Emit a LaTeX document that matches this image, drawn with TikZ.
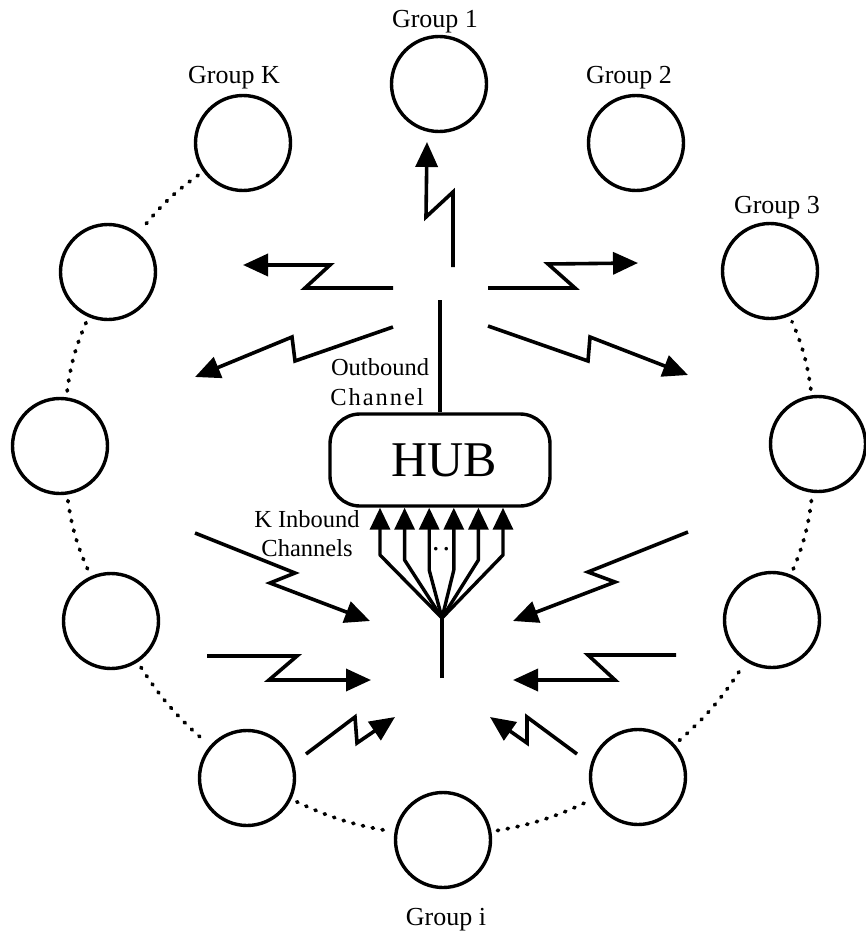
\documentclass[tikz,border=0pt]{standalone}
\usepackage{fontspec}
\setmainfont{Liberation Serif}
\usetikzlibrary{arrows.meta}
\begin{document}
\begin{tikzpicture}[x=1pt,y=-1pt,
  grp/.style={circle,draw,line width=3.4pt,minimum size=95pt,inner sep=0pt},
  grplabel/.style={anchor=base,inner sep=0pt,font=\fontsize{26}{30}\selectfont},
  chlabel/.style={anchor=base,inner sep=0pt,font=\fontsize{24.5}{28}\selectfont},
  bolt/.style={line width=3.6pt,line join=miter,-{Triangle[length=25pt,width=22pt]}},
  feed/.style={line width=3.4pt,line join=round,-{Triangle[length=22pt,width=20pt]}},
  ring/.style={line width=3.8pt,line cap=round,dash pattern=on 1.2pt off 8.8pt,shorten <=6pt,shorten >=6pt},
  wire/.style={line width=3.6pt}]
\useasboundingbox (0,0) rectangle (866,934);

% group terminals on the outer ring
\node[grp] (g1) at (439,84)  {};
\node[grp] (g2) at (636,143) {};
\node[grp] (gk) at (243,143) {};
\node[grp] (g3) at (770,271) {};
\node[grp] (lu) at (108,272) {};
\node[grp] (lm) at (60,446)  {};
\node[grp] (ll) at (111,621) {};
\node[grp] (bl) at (247,778) {};
\node[grp] (gi) at (443,840) {};
\node[grp] (br) at (638,777) {};
\node[grp] (rl) at (772,620) {};
\node[grp] (rm) at (818,444) {};

\node[grplabel] (lg1) at (435,28)  {Group 1};
\node[grplabel] (lgk) at (234,84)  {Group K};
\node[grplabel] (lg2) at (629,84)  {Group 2};
\node[grplabel] (lg3) at (777,213) {Group 3};
\node[grplabel] (lgi) at (446,925) {Group i};

% dotted ring joining the remaining groups
\draw[ring] (gk) to[bend right=8] (lu);
\draw[ring] (lu) to[bend right=8] (lm);
\draw[ring] (lm) to[bend right=8] (ll);
\draw[ring] (ll) to[bend right=8] (bl);
\draw[ring] (bl) to[bend right=8] (gi);
\draw[ring] (gi) to[bend right=8] (br);
\draw[ring] (br) to[bend right=8] (rl);
\draw[ring] (rl) to[bend right=8] (rm);
\draw[ring] (rm) to[bend right=8] (g3);

% hub
\node[draw,line width=3.4pt,rounded corners=30pt,minimum width=220pt,minimum height=92pt,
      inner sep=0pt,font=\fontsize{50}{56}\selectfont] (hub) at (440,460) {\hspace{8pt}HUB};

% outbound channel
\coordinate (outtop) at (440,300);
\draw[wire] (hub.north) -- (outtop);
\node[chlabel] (lout1) at (380,375) {Outbound};
\node[chlabel] (lout2) at (377,405) {\addfontfeature{LetterSpace=8}Channel};

% outbound radio links
\draw[bolt] (453,267) -- (453,192) -- (426,217) -- (427,142);
\draw[bolt] (393,288) -- (305,288) -- (330,265) -- (243,265);
\draw[bolt] (488,288) -- (575,288) -- (548,264) -- (638,263);
\draw[bolt] (393,327) -- (295,361) -- (292,337) -- (195,377);
\draw[bolt] (488,326) -- (588,361) -- (590,337) -- (688,375);

% inbound radio links
\draw[bolt] (195,533) -- (295,573) -- (270,583) -- (370,621);
\draw[bolt] (688,532) -- (588,572) -- (615,582) -- (513,621);
\draw[bolt] (207,656) -- (297,656) -- (269,680) -- (371,680);
\draw[bolt] (676,655) -- (588,655) -- (615,680) -- (513,680);
\draw[bolt] (306,754) -- (355,717) -- (357,743) -- (395,717);
\draw[bolt] (577,754) -- (527,717) -- (527,743) -- (490,717);

% K inbound channels fanning into the hub
\coordinate (stem) at (442,678);
\coordinate (fork) at (442,618);
\draw[wire] (stem) -- (fork);
\foreach \x/\y [count=\i] in {380/555,404.6/560,429.2/570,453.8/570,478.4/560,503/555} {
  \coordinate (k\i) at (\x,\y);
  \draw[feed] (fork) -- (k\i) -- (k\i |- hub.south);
}
\node[anchor=base,inner sep=0pt,font=\fontsize{30}{30}\selectfont] (more) at (441,550) {.\kern3pt.};
\node[chlabel] (lin1) at (307,527) {K Inbound};
\node[chlabel] (lin2) at (307,556) {Channels};
\end{tikzpicture}
\end{document}
